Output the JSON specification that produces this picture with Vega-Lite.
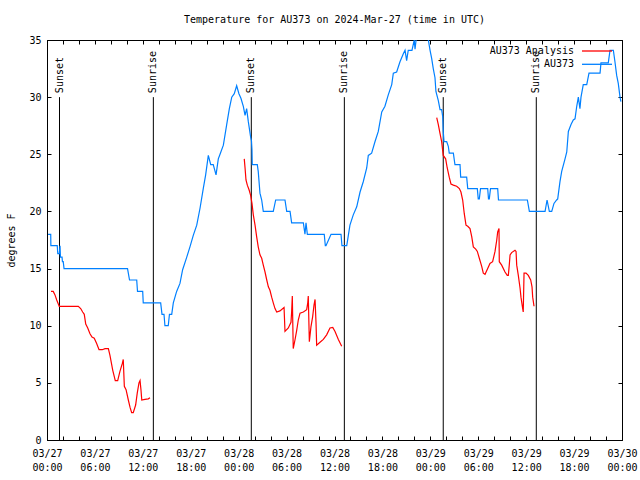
{
  "$schema": "https://vega.github.io/schema/vega-lite/v6.json",
  "width": 575,
  "height": 400,
  "autosize": {"type": "none"},
  "padding": {"left": 47, "top": 40, "right": 18, "bottom": 40},
  "background": "white",
  "title": {"text": "Temperature for AU373 on 2024-Mar-27 (time in UTC)", "font": "DejaVu Sans Mono", "fontSize": 10, "fontWeight": "normal", "color": "black", "anchor": "middle", "offset": 10},
  "config": {
    "view": {"stroke": "black", "strokeWidth": 1},
    "axis": {"labelFont": "DejaVu Sans Mono", "labelFontSize": 10, "labelColor": "black", "titleFont": "DejaVu Sans Mono", "titleFontSize": 10, "titleFontWeight": "normal", "titleColor": "black", "domainColor": "black", "tickColor": "black", "grid": false, "tickSize": -4}
  },
  "datasets": {
    "obs": [
      {"time": "2024-03-27T00:08Z", "temp": 18}, {"time": "2024-03-27T00:28Z", "temp": 18}, {"time": "2024-03-27T00:29Z", "temp": 17}, {"time": "2024-03-27T01:17Z", "temp": 17},
      {"time": "2024-03-27T01:21Z", "temp": 16.3}, {"time": "2024-03-27T01:32Z", "temp": 16.3}, {"time": "2024-03-27T01:38Z", "temp": 17}, {"time": "2024-03-27T01:41Z", "temp": 16},
      {"time": "2024-03-27T01:53Z", "temp": 16}, {"time": "2024-03-27T01:56Z", "temp": 15.6}, {"time": "2024-03-27T02:02Z", "temp": 15.6}, {"time": "2024-03-27T02:08Z", "temp": 15},
      {"time": "2024-03-27T10:05Z", "temp": 15}, {"time": "2024-03-27T10:20Z", "temp": 14}, {"time": "2024-03-27T11:14Z", "temp": 14}, {"time": "2024-03-27T11:20Z", "temp": 13},
      {"time": "2024-03-27T11:59Z", "temp": 13}, {"time": "2024-03-27T12:03Z", "temp": 12}, {"time": "2024-03-27T14:14Z", "temp": 12}, {"time": "2024-03-27T14:24Z", "temp": 11},
      {"time": "2024-03-27T14:39Z", "temp": 11}, {"time": "2024-03-27T14:46Z", "temp": 10}, {"time": "2024-03-27T15:11Z", "temp": 10}, {"time": "2024-03-27T15:20Z", "temp": 11},
      {"time": "2024-03-27T15:37Z", "temp": 11}, {"time": "2024-03-27T15:49Z", "temp": 12}, {"time": "2024-03-27T16:14Z", "temp": 13}, {"time": "2024-03-27T16:39Z", "temp": 13.7},
      {"time": "2024-03-27T16:59Z", "temp": 14.9}, {"time": "2024-03-27T17:30Z", "temp": 16}, {"time": "2024-03-27T17:54Z", "temp": 16.9}, {"time": "2024-03-27T18:19Z", "temp": 17.9},
      {"time": "2024-03-27T18:45Z", "temp": 18.8}, {"time": "2024-03-27T19:10Z", "temp": 20.3}, {"time": "2024-03-27T19:34Z", "temp": 22}, {"time": "2024-03-27T19:52Z", "temp": 23.2},
      {"time": "2024-03-27T20:12Z", "temp": 24.9}, {"time": "2024-03-27T20:30Z", "temp": 24.1}, {"time": "2024-03-27T20:49Z", "temp": 24.1}, {"time": "2024-03-27T21:10Z", "temp": 23.2},
      {"time": "2024-03-27T21:27Z", "temp": 24.6}, {"time": "2024-03-27T21:40Z", "temp": 25}, {"time": "2024-03-27T22:05Z", "temp": 25.8}, {"time": "2024-03-27T22:30Z", "temp": 27.6},
      {"time": "2024-03-27T22:50Z", "temp": 29}, {"time": "2024-03-27T23:08Z", "temp": 30}, {"time": "2024-03-27T23:27Z", "temp": 30.3}, {"time": "2024-03-27T23:45Z", "temp": 31},
      {"time": "2024-03-28T00:02Z", "temp": 30.3}, {"time": "2024-03-28T00:17Z", "temp": 29.9}, {"time": "2024-03-28T00:35Z", "temp": 29.2}, {"time": "2024-03-28T00:48Z", "temp": 28.4},
      {"time": "2024-03-28T01:00Z", "temp": 29}, {"time": "2024-03-28T01:12Z", "temp": 27.9}, {"time": "2024-03-28T01:30Z", "temp": 26.5}, {"time": "2024-03-28T01:36Z", "temp": 26.2},
      {"time": "2024-03-28T01:40Z", "temp": 25.4}, {"time": "2024-03-28T01:42Z", "temp": 24.1}, {"time": "2024-03-28T02:20Z", "temp": 24.1}, {"time": "2024-03-28T02:27Z", "temp": 23.5},
      {"time": "2024-03-28T02:40Z", "temp": 21.6}, {"time": "2024-03-28T02:53Z", "temp": 21}, {"time": "2024-03-28T03:05Z", "temp": 20}, {"time": "2024-03-28T04:20Z", "temp": 20},
      {"time": "2024-03-28T04:38Z", "temp": 21}, {"time": "2024-03-28T05:48Z", "temp": 21}, {"time": "2024-03-28T06:01Z", "temp": 20}, {"time": "2024-03-28T06:26Z", "temp": 20},
      {"time": "2024-03-28T06:38Z", "temp": 19}, {"time": "2024-03-28T08:06Z", "temp": 19}, {"time": "2024-03-28T08:18Z", "temp": 18}, {"time": "2024-03-28T08:26Z", "temp": 19},
      {"time": "2024-03-28T08:36Z", "temp": 18}, {"time": "2024-03-28T10:43Z", "temp": 18}, {"time": "2024-03-28T10:51Z", "temp": 17}, {"time": "2024-03-28T10:56Z", "temp": 17},
      {"time": "2024-03-28T11:34Z", "temp": 18}, {"time": "2024-03-28T12:49Z", "temp": 18}, {"time": "2024-03-28T12:56Z", "temp": 17}, {"time": "2024-03-28T13:32Z", "temp": 17},
      {"time": "2024-03-28T13:44Z", "temp": 17.9}, {"time": "2024-03-28T13:56Z", "temp": 18.8}, {"time": "2024-03-28T14:21Z", "temp": 19.7}, {"time": "2024-03-28T14:47Z", "temp": 20.4},
      {"time": "2024-03-28T15:12Z", "temp": 21.7}, {"time": "2024-03-28T15:36Z", "temp": 22.6}, {"time": "2024-03-28T16:02Z", "temp": 23.8}, {"time": "2024-03-28T16:14Z", "temp": 24.9},
      {"time": "2024-03-28T16:39Z", "temp": 25.1}, {"time": "2024-03-28T17:04Z", "temp": 26.1}, {"time": "2024-03-28T17:29Z", "temp": 27}, {"time": "2024-03-28T17:55Z", "temp": 28.7},
      {"time": "2024-03-28T18:19Z", "temp": 29.2}, {"time": "2024-03-28T18:44Z", "temp": 30.2}, {"time": "2024-03-28T19:10Z", "temp": 31.1}, {"time": "2024-03-28T19:22Z", "temp": 32.1},
      {"time": "2024-03-28T19:47Z", "temp": 32.2}, {"time": "2024-03-28T20:12Z", "temp": 33.1}, {"time": "2024-03-28T20:37Z", "temp": 33.8}, {"time": "2024-03-28T20:50Z", "temp": 34.1},
      {"time": "2024-03-28T21:02Z", "temp": 33.2}, {"time": "2024-03-28T21:14Z", "temp": 34.1}, {"time": "2024-03-28T21:42Z", "temp": 34.1}, {"time": "2024-03-28T21:59Z", "temp": 35},
      {"time": "2024-03-28T22:05Z", "temp": 34.2}, {"time": "2024-03-28T22:18Z", "temp": 35.5}, {"time": "2024-03-28T23:20Z", "temp": 35.5}, {"time": "2024-03-28T23:45Z", "temp": 35},
      {"time": "2024-03-28T23:58Z", "temp": 34.1}, {"time": "2024-03-29T00:10Z", "temp": 33.4}, {"time": "2024-03-29T00:22Z", "temp": 32.5}, {"time": "2024-03-29T00:35Z", "temp": 31.7},
      {"time": "2024-03-29T00:42Z", "temp": 30.5}, {"time": "2024-03-29T01:00Z", "temp": 29.7}, {"time": "2024-03-29T01:13Z", "temp": 28.9}, {"time": "2024-03-29T01:25Z", "temp": 28.9},
      {"time": "2024-03-29T01:33Z", "temp": 28.3}, {"time": "2024-03-29T01:37Z", "temp": 27}, {"time": "2024-03-29T01:43Z", "temp": 26.1}, {"time": "2024-03-29T02:03Z", "temp": 26.1},
      {"time": "2024-03-29T02:15Z", "temp": 25.7}, {"time": "2024-03-29T02:22Z", "temp": 25.1}, {"time": "2024-03-29T02:53Z", "temp": 25.1}, {"time": "2024-03-29T03:00Z", "temp": 24.5},
      {"time": "2024-03-29T03:05Z", "temp": 24.1}, {"time": "2024-03-29T03:43Z", "temp": 24.1}, {"time": "2024-03-29T03:48Z", "temp": 23}, {"time": "2024-03-29T04:33Z", "temp": 23},
      {"time": "2024-03-29T04:41Z", "temp": 22}, {"time": "2024-03-29T05:53Z", "temp": 22}, {"time": "2024-03-29T06:00Z", "temp": 21.1}, {"time": "2024-03-29T06:08Z", "temp": 21.1},
      {"time": "2024-03-29T06:17Z", "temp": 22}, {"time": "2024-03-29T07:11Z", "temp": 22}, {"time": "2024-03-29T07:17Z", "temp": 21.1}, {"time": "2024-03-29T07:23Z", "temp": 21.1},
      {"time": "2024-03-29T07:32Z", "temp": 22}, {"time": "2024-03-29T08:26Z", "temp": 22}, {"time": "2024-03-29T08:32Z", "temp": 21}, {"time": "2024-03-29T12:09Z", "temp": 21},
      {"time": "2024-03-29T12:24Z", "temp": 20}, {"time": "2024-03-29T14:22Z", "temp": 20}, {"time": "2024-03-29T14:37Z", "temp": 21}, {"time": "2024-03-29T14:54Z", "temp": 20},
      {"time": "2024-03-29T15:12Z", "temp": 20}, {"time": "2024-03-29T15:29Z", "temp": 20.7}, {"time": "2024-03-29T15:49Z", "temp": 21}, {"time": "2024-03-29T15:57Z", "temp": 21.1},
      {"time": "2024-03-29T16:14Z", "temp": 22.6}, {"time": "2024-03-29T16:27Z", "temp": 23.5}, {"time": "2024-03-29T16:52Z", "temp": 24.6}, {"time": "2024-03-29T17:05Z", "temp": 25.2},
      {"time": "2024-03-29T17:17Z", "temp": 27}, {"time": "2024-03-29T17:37Z", "temp": 27.6}, {"time": "2024-03-29T17:54Z", "temp": 28}, {"time": "2024-03-29T18:07Z", "temp": 28.1},
      {"time": "2024-03-29T18:20Z", "temp": 29.2}, {"time": "2024-03-29T18:32Z", "temp": 30}, {"time": "2024-03-29T18:44Z", "temp": 29}, {"time": "2024-03-29T18:52Z", "temp": 30},
      {"time": "2024-03-29T19:09Z", "temp": 31.1}, {"time": "2024-03-29T19:35Z", "temp": 31.1}, {"time": "2024-03-29T19:52Z", "temp": 32.1}, {"time": "2024-03-29T21:15Z", "temp": 32.1},
      {"time": "2024-03-29T21:22Z", "temp": 33}, {"time": "2024-03-29T22:17Z", "temp": 33}, {"time": "2024-03-29T22:30Z", "temp": 34.1}, {"time": "2024-03-29T22:55Z", "temp": 34.1},
      {"time": "2024-03-29T23:07Z", "temp": 33.1}, {"time": "2024-03-29T23:20Z", "temp": 31.9}, {"time": "2024-03-29T23:32Z", "temp": 31.2}, {"time": "2024-03-29T23:45Z", "temp": 30},
      {"time": "2024-03-29T23:52Z", "temp": 29.6}
    ],
    "anl": [
      {"time": "2024-03-27T00:30Z", "temp": 13, "seg": 1}, {"time": "2024-03-27T00:47Z", "temp": 13, "seg": 1}, {"time": "2024-03-27T01:00Z", "temp": 12.7, "seg": 1}, {"time": "2024-03-27T01:13Z", "temp": 12.25, "seg": 1},
      {"time": "2024-03-27T01:25Z", "temp": 11.9, "seg": 1}, {"time": "2024-03-27T01:32Z", "temp": 11.7, "seg": 1}, {"time": "2024-03-27T03:55Z", "temp": 11.7, "seg": 1}, {"time": "2024-03-27T04:13Z", "temp": 11.5, "seg": 1},
      {"time": "2024-03-27T04:28Z", "temp": 11.2, "seg": 1}, {"time": "2024-03-27T04:40Z", "temp": 11.0, "seg": 1}, {"time": "2024-03-27T04:51Z", "temp": 10.15, "seg": 1}, {"time": "2024-03-27T05:06Z", "temp": 9.8, "seg": 1},
      {"time": "2024-03-27T05:23Z", "temp": 9.3, "seg": 1}, {"time": "2024-03-27T05:38Z", "temp": 9.0, "seg": 1}, {"time": "2024-03-27T05:55Z", "temp": 8.9, "seg": 1}, {"time": "2024-03-27T06:13Z", "temp": 8.45, "seg": 1},
      {"time": "2024-03-27T06:31Z", "temp": 7.9, "seg": 1}, {"time": "2024-03-27T06:55Z", "temp": 7.9, "seg": 1}, {"time": "2024-03-27T07:16Z", "temp": 8.0, "seg": 1}, {"time": "2024-03-27T07:41Z", "temp": 8.0, "seg": 1},
      {"time": "2024-03-27T07:53Z", "temp": 7.4, "seg": 1}, {"time": "2024-03-27T08:14Z", "temp": 6.1, "seg": 1}, {"time": "2024-03-27T08:33Z", "temp": 5.2, "seg": 1}, {"time": "2024-03-27T08:51Z", "temp": 5.2, "seg": 1},
      {"time": "2024-03-27T09:08Z", "temp": 6.0, "seg": 1}, {"time": "2024-03-27T09:26Z", "temp": 6.7, "seg": 1}, {"time": "2024-03-27T09:33Z", "temp": 7.05, "seg": 1}, {"time": "2024-03-27T09:41Z", "temp": 4.7, "seg": 1},
      {"time": "2024-03-27T09:54Z", "temp": 4.4, "seg": 1}, {"time": "2024-03-27T10:11Z", "temp": 3.5, "seg": 1}, {"time": "2024-03-27T10:24Z", "temp": 2.85, "seg": 1}, {"time": "2024-03-27T10:36Z", "temp": 2.4, "seg": 1},
      {"time": "2024-03-27T10:48Z", "temp": 2.4, "seg": 1}, {"time": "2024-03-27T11:06Z", "temp": 3.06, "seg": 1}, {"time": "2024-03-27T11:18Z", "temp": 4.1, "seg": 1}, {"time": "2024-03-27T11:31Z", "temp": 5.0, "seg": 1},
      {"time": "2024-03-27T11:39Z", "temp": 5.2, "seg": 1}, {"time": "2024-03-27T11:46Z", "temp": 4.4, "seg": 1}, {"time": "2024-03-27T11:52Z", "temp": 3.5, "seg": 1}, {"time": "2024-03-27T12:16Z", "temp": 3.55, "seg": 1},
      {"time": "2024-03-27T12:41Z", "temp": 3.6, "seg": 1}, {"time": "2024-03-27T12:54Z", "temp": 3.7, "seg": 1},
      {"time": "2024-03-28T00:42Z", "temp": 24.6, "seg": 2}, {"time": "2024-03-28T00:48Z", "temp": 23.8, "seg": 2}, {"time": "2024-03-28T00:55Z", "temp": 22.75, "seg": 2}, {"time": "2024-03-28T01:05Z", "temp": 22.3, "seg": 2},
      {"time": "2024-03-28T01:18Z", "temp": 21.9, "seg": 2}, {"time": "2024-03-28T01:30Z", "temp": 21.4, "seg": 2}, {"time": "2024-03-28T01:40Z", "temp": 20.7, "seg": 2}, {"time": "2024-03-28T01:50Z", "temp": 19.7, "seg": 2},
      {"time": "2024-03-28T02:03Z", "temp": 18.8, "seg": 2}, {"time": "2024-03-28T02:15Z", "temp": 17.8, "seg": 2}, {"time": "2024-03-28T02:27Z", "temp": 16.9, "seg": 2}, {"time": "2024-03-28T02:40Z", "temp": 16.2, "seg": 2},
      {"time": "2024-03-28T02:53Z", "temp": 15.9, "seg": 2}, {"time": "2024-03-28T03:05Z", "temp": 15.3, "seg": 2}, {"time": "2024-03-28T03:18Z", "temp": 14.7, "seg": 2}, {"time": "2024-03-28T03:31Z", "temp": 14.0, "seg": 2},
      {"time": "2024-03-28T03:43Z", "temp": 13.4, "seg": 2}, {"time": "2024-03-28T03:55Z", "temp": 13.1, "seg": 2}, {"time": "2024-03-28T04:08Z", "temp": 12.5, "seg": 2}, {"time": "2024-03-28T04:20Z", "temp": 12.0, "seg": 2},
      {"time": "2024-03-28T04:33Z", "temp": 11.5, "seg": 2}, {"time": "2024-03-28T04:46Z", "temp": 11.2, "seg": 2}, {"time": "2024-03-28T05:10Z", "temp": 11.3, "seg": 2}, {"time": "2024-03-28T05:41Z", "temp": 11.6, "seg": 2},
      {"time": "2024-03-28T05:48Z", "temp": 9.5, "seg": 2}, {"time": "2024-03-28T06:13Z", "temp": 9.8, "seg": 2}, {"time": "2024-03-28T06:33Z", "temp": 10.3, "seg": 2}, {"time": "2024-03-28T06:38Z", "temp": 11.2, "seg": 2},
      {"time": "2024-03-28T06:43Z", "temp": 12.6, "seg": 2}, {"time": "2024-03-28T06:50Z", "temp": 8.0, "seg": 2}, {"time": "2024-03-28T07:03Z", "temp": 8.75, "seg": 2}, {"time": "2024-03-28T07:16Z", "temp": 9.6, "seg": 2},
      {"time": "2024-03-28T07:28Z", "temp": 10.5, "seg": 2}, {"time": "2024-03-28T07:41Z", "temp": 11.1, "seg": 2}, {"time": "2024-03-28T08:06Z", "temp": 11.2, "seg": 2}, {"time": "2024-03-28T08:31Z", "temp": 11.4, "seg": 2},
      {"time": "2024-03-28T08:39Z", "temp": 12.0, "seg": 2}, {"time": "2024-03-28T08:43Z", "temp": 12.6, "seg": 2}, {"time": "2024-03-28T08:51Z", "temp": 8.6, "seg": 2}, {"time": "2024-03-28T09:03Z", "temp": 9.9, "seg": 2},
      {"time": "2024-03-28T09:16Z", "temp": 10.8, "seg": 2}, {"time": "2024-03-28T09:26Z", "temp": 11.8, "seg": 2}, {"time": "2024-03-28T09:34Z", "temp": 12.3, "seg": 2}, {"time": "2024-03-28T09:41Z", "temp": 10.3, "seg": 2},
      {"time": "2024-03-28T09:46Z", "temp": 8.3, "seg": 2}, {"time": "2024-03-28T10:11Z", "temp": 8.55, "seg": 2}, {"time": "2024-03-28T10:36Z", "temp": 8.8, "seg": 2}, {"time": "2024-03-28T11:01Z", "temp": 9.2, "seg": 2},
      {"time": "2024-03-28T11:26Z", "temp": 9.8, "seg": 2}, {"time": "2024-03-28T11:47Z", "temp": 9.85, "seg": 2}, {"time": "2024-03-28T12:04Z", "temp": 9.5, "seg": 2}, {"time": "2024-03-28T12:29Z", "temp": 8.8, "seg": 2},
      {"time": "2024-03-28T12:54Z", "temp": 8.2, "seg": 2},
      {"time": "2024-03-29T00:48Z", "temp": 28.2, "seg": 3}, {"time": "2024-03-29T01:00Z", "temp": 27.6, "seg": 3}, {"time": "2024-03-29T01:13Z", "temp": 26.8, "seg": 3}, {"time": "2024-03-29T01:25Z", "temp": 26.1, "seg": 3},
      {"time": "2024-03-29T01:37Z", "temp": 24.9, "seg": 3}, {"time": "2024-03-29T01:55Z", "temp": 24.6, "seg": 3}, {"time": "2024-03-29T02:07Z", "temp": 23.8, "seg": 3}, {"time": "2024-03-29T02:22Z", "temp": 23.0, "seg": 3},
      {"time": "2024-03-29T02:35Z", "temp": 22.4, "seg": 3}, {"time": "2024-03-29T02:53Z", "temp": 22.3, "seg": 3}, {"time": "2024-03-29T03:18Z", "temp": 22.2, "seg": 3}, {"time": "2024-03-29T03:38Z", "temp": 22.0, "seg": 3},
      {"time": "2024-03-29T03:50Z", "temp": 21.7, "seg": 3}, {"time": "2024-03-29T04:03Z", "temp": 21.0, "seg": 3}, {"time": "2024-03-29T04:15Z", "temp": 19.8, "seg": 3}, {"time": "2024-03-29T04:28Z", "temp": 18.8, "seg": 3},
      {"time": "2024-03-29T04:41Z", "temp": 18.7, "seg": 3}, {"time": "2024-03-29T04:58Z", "temp": 18.5, "seg": 3}, {"time": "2024-03-29T05:11Z", "temp": 17.8, "seg": 3}, {"time": "2024-03-29T05:23Z", "temp": 16.9, "seg": 3},
      {"time": "2024-03-29T05:41Z", "temp": 16.7, "seg": 3}, {"time": "2024-03-29T05:53Z", "temp": 16.5, "seg": 3}, {"time": "2024-03-29T06:08Z", "temp": 15.9, "seg": 3}, {"time": "2024-03-29T06:26Z", "temp": 15.2, "seg": 3},
      {"time": "2024-03-29T06:38Z", "temp": 14.6, "seg": 3}, {"time": "2024-03-29T06:51Z", "temp": 14.5, "seg": 3}, {"time": "2024-03-29T07:11Z", "temp": 15.0, "seg": 3}, {"time": "2024-03-29T07:28Z", "temp": 15.45, "seg": 3},
      {"time": "2024-03-29T07:48Z", "temp": 15.6, "seg": 3}, {"time": "2024-03-29T08:06Z", "temp": 16.5, "seg": 3}, {"time": "2024-03-29T08:19Z", "temp": 17.5, "seg": 3}, {"time": "2024-03-29T08:26Z", "temp": 18.2, "seg": 3},
      {"time": "2024-03-29T08:36Z", "temp": 18.5, "seg": 3}, {"time": "2024-03-29T08:38Z", "temp": 15.6, "seg": 3}, {"time": "2024-03-29T08:56Z", "temp": 15.3, "seg": 3}, {"time": "2024-03-29T09:21Z", "temp": 14.7, "seg": 3},
      {"time": "2024-03-29T09:38Z", "temp": 14.4, "seg": 3}, {"time": "2024-03-29T09:46Z", "temp": 14.4, "seg": 3}, {"time": "2024-03-29T09:53Z", "temp": 15.3, "seg": 3}, {"time": "2024-03-29T09:59Z", "temp": 16.2, "seg": 3},
      {"time": "2024-03-29T10:11Z", "temp": 16.4, "seg": 3}, {"time": "2024-03-29T10:36Z", "temp": 16.6, "seg": 3}, {"time": "2024-03-29T10:44Z", "temp": 16.5, "seg": 3}, {"time": "2024-03-29T10:49Z", "temp": 15.3, "seg": 3},
      {"time": "2024-03-29T11:01Z", "temp": 14.4, "seg": 3}, {"time": "2024-03-29T11:14Z", "temp": 13.3, "seg": 3}, {"time": "2024-03-29T11:21Z", "temp": 12.5, "seg": 3}, {"time": "2024-03-29T11:31Z", "temp": 11.7, "seg": 3},
      {"time": "2024-03-29T11:38Z", "temp": 11.2, "seg": 3}, {"time": "2024-03-29T11:44Z", "temp": 14.6, "seg": 3}, {"time": "2024-03-29T11:59Z", "temp": 14.6, "seg": 3}, {"time": "2024-03-29T12:16Z", "temp": 14.4, "seg": 3},
      {"time": "2024-03-29T12:34Z", "temp": 14.0, "seg": 3}, {"time": "2024-03-29T12:44Z", "temp": 13.4, "seg": 3}, {"time": "2024-03-29T12:49Z", "temp": 12.5, "seg": 3}, {"time": "2024-03-29T12:59Z", "temp": 11.7, "seg": 3}
    ],
    "sun": [
      {"time": "2024-03-27T01:34Z", "event": "Sunset"},
      {"time": "2024-03-27T13:19Z", "event": "Sunrise"},
      {"time": "2024-03-28T01:35Z", "event": "Sunset"},
      {"time": "2024-03-28T13:14Z", "event": "Sunrise"},
      {"time": "2024-03-29T01:37Z", "event": "Sunset"},
      {"time": "2024-03-29T13:16Z", "event": "Sunrise"}
    ]
  },
  "layer": [
    {
      "data": {"name": "sun"},
      "mark": {"type": "rule", "color": "black", "strokeWidth": 1},
      "encoding": {
        "x": {"field": "time", "type": "temporal", "scale": {"type": "utc", "nice": false, "domain": [1711497600000, 1711756800000]},
          "axis": {"orient": "top", "values": [1711497600000, 1711504800000, 1711512000000, 1711519200000, 1711526400000, 1711533600000, 1711540800000, 1711548000000, 1711555200000, 1711562400000, 1711569600000, 1711576800000, 1711584000000, 1711591200000, 1711598400000, 1711605600000, 1711612800000, 1711620000000, 1711627200000, 1711634400000, 1711641600000, 1711648800000, 1711656000000, 1711663200000, 1711670400000, 1711677600000, 1711684800000, 1711692000000, 1711699200000, 1711706400000, 1711713600000, 1711720800000, 1711728000000, 1711735200000, 1711742400000, 1711749600000, 1711756800000], "labels": false, "title": null}},
        "y": {"datum": 0, "type": "quantitative", "scale": {"domain": [0, 35], "nice": false}, "axis": {"orient": "right", "values": [0, 5, 10, 15, 20, 25, 30, 35], "labels": false, "title": null}},
        "y2": {"datum": 30}
      }
    },
    {
      "data": {"name": "sun"},
      "mark": {"type": "text", "angle": 270, "align": "left", "baseline": "middle", "dx": 4, "font": "DejaVu Sans Mono", "fontSize": 10, "color": "black"},
      "encoding": {
        "x": {"field": "time", "type": "temporal", "axis": null},
        "y": {"datum": 30, "type": "quantitative", "axis": null},
        "text": {"field": "event"}
      }
    },
    {
      "data": {"name": "obs"},
      "mark": {"type": "line", "strokeWidth": 1.2, "clip": true},
      "encoding": {
        "x": {"field": "time", "type": "temporal",
          "axis": {"orient": "bottom", "values": [1711497600000, 1711504800000, 1711512000000, 1711519200000, 1711526400000, 1711533600000, 1711540800000, 1711548000000, 1711555200000, 1711562400000, 1711569600000, 1711576800000, 1711584000000, 1711591200000, 1711598400000, 1711605600000, 1711612800000, 1711620000000, 1711627200000, 1711634400000, 1711641600000, 1711648800000, 1711656000000, 1711663200000, 1711670400000, 1711677600000, 1711684800000, 1711692000000, 1711699200000, 1711706400000, 1711713600000, 1711720800000, 1711728000000, 1711735200000, 1711742400000, 1711749600000, 1711756800000], "labelExpr": "utchours(datum.value) % 6 == 0 ? [utcFormat(datum.value, '%m/%d'), utcFormat(datum.value, '%H:%M')] : ''", "labelOverlap": false, "labelFlush": false, "labelBound": false, "labelPadding": 12, "labelLineHeight": 14, "labelBaseline": "top", "title": null}},
        "y": {"field": "temp", "type": "quantitative",
          "axis": {"orient": "left", "values": [0, 5, 10, 15, 20, 25, 30, 35], "title": "degrees F", "labelPadding": 10, "titlePadding": 12}},
        "color": {"datum": "AU373", "type": "nominal",
          "scale": {"domain": ["AU373 Analysis", "AU373"], "range": ["#ff0000", "#0080ff"]},
          "legend": {"orient": "none", "legendX": 545, "legendY": 6, "title": null, "symbolType": "M-5,0H5", "symbolSize": 36, "symbolStrokeWidth": 1.3, "labelAlign": "right", "labelOffset": -28, "rowPadding": 3.3, "padding": 0, "labelFont": "DejaVu Sans Mono", "labelFontSize": 10, "labelColor": "black"}}
      }
    },
    {
      "data": {"name": "anl"},
      "mark": {"type": "line", "strokeWidth": 1.2, "clip": true},
      "encoding": {
        "x": {"field": "time", "type": "temporal", "axis": null},
        "y": {"field": "temp", "type": "quantitative", "axis": null},
        "detail": {"field": "seg", "type": "nominal"},
        "color": {"datum": "AU373 Analysis", "type": "nominal"}
      }
    }
  ]
}
